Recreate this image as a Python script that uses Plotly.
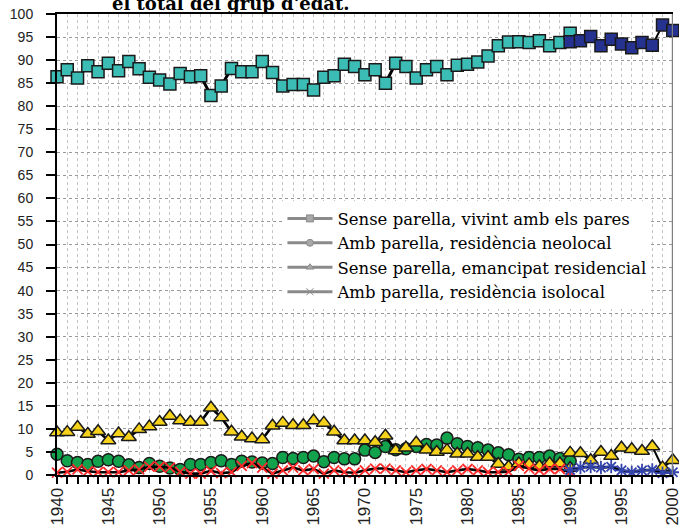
import plotly.graph_objects as go

years_a = list(range(1940, 1991))
years_b = list(range(1990, 2001))

pares_a = [86.4, 87.9, 86.1, 88.8, 87.5, 89.3, 87.7, 89.7, 88.1, 86.3,
           85.7, 84.8, 87.1, 86.4, 86.6, 82.3, 84.4, 88.2, 87.5, 87.5,
           89.7, 87.3, 84.4, 84.7, 84.7, 83.5, 86.3, 86.6, 89.1, 88.6,
           86.8, 87.9, 85.0, 89.3, 88.6, 86.1, 87.9, 88.6, 86.8, 88.9,
           89.1, 89.6, 90.9, 93.1, 93.9, 94.0, 93.8, 94.2, 93.1, 93.8,
           95.8]
pares_b = [94.0, 94.2, 95.1, 93.1, 94.5, 93.5, 92.7, 93.8, 93.2, 97.6, 96.4]

neolocal_a = [4.5, 3.1, 2.7, 2.3, 3.0, 3.3, 3.0, 2.2, 1.6, 2.5,
              1.9, 1.5, 1.2, 2.3, 2.3, 2.7, 3.1, 2.3, 3.0, 2.8,
              2.6, 2.5, 3.8, 3.6, 3.8, 4.1, 2.9, 3.8, 3.5, 3.5,
              5.4, 4.9, 6.2, 5.5, 5.7, 6.2, 6.6, 6.5, 8.0, 6.8,
              6.2, 5.9, 5.4, 4.8, 4.4, 3.4, 3.8, 3.8, 4.1, 3.6,
              3.0]

emancip_a = [9.2, 9.3, 10.4, 8.9, 9.5, 7.5, 9.0, 8.2, 9.9, 10.5,
             11.5, 12.8, 11.8, 11.5, 11.5, 14.6, 12.5, 9.4, 8.3, 7.9,
             7.7, 10.7, 11.3, 10.8, 10.8, 11.8, 11.3, 9.4, 7.5, 7.5,
             7.5, 7.1, 8.5, 5.3, 5.9, 7.0, 5.5, 5.0, 5.4, 4.6,
             4.6, 3.9, 3.9, 2.4, 1.8, 2.5, 2.3, 1.9, 2.5, 2.5,
             1.5]
emancip_b = [4.8, 4.7, 3.2, 5.0, 4.1, 5.9, 5.6, 5.2, 6.2, 1.6, 3.2]

isolocal_a = [0.5, 0.7, 1.2, 0.8, 0.6, 0.6, 0.6, 1.0, 1.2, 1.8,
              1.8, 1.6, 0.7, 0.3, 0.3, 0.9, 0.4, 0.6, 2.0, 2.6,
              1.6, 0.3, 1.0, 1.6, 1.0, 1.3, 0.3, 1.0, 0.6, 0.5,
              1.0, 1.4, 1.4, 1.0, 0.6, 1.0, 1.3, 1.0, 0.6, 1.0,
              1.3, 1.0, 0.6, 0.6, 0.7, 2.0, 1.4, 1.0, 1.3, 1.3,
              0.6]
isolocal_b = [1.1, 1.6, 1.8, 1.6, 1.8, 1.0, 0.6, 1.0, 1.1, 0.4, 0.6]

legend_names = ["Sense parella, vivint amb els pares",
                "Amb parella, residència neolocal",
                "Sense parella, emancipat residencial",
                "Amb parella, residència isolocal"]

title_tail = "el total del grup d'edat."

x_ticks = list(range(1940, 2001, 5))
y_ticks = list(range(0, 101, 5))

fig = go.Figure()

def add(xs, ys, symbol, color, size, lw=2.6, outline="#1a1a1a", olw=1.5):
    fig.add_trace(go.Scatter(
        x=xs, y=ys, mode="lines+markers", showlegend=False, cliponaxis=False,
        hoverinfo="skip",
        line=dict(color="black", width=lw),
        marker=dict(symbol=symbol, size=size, color=color,
                    line=dict(color=outline, width=olw))))

add(years_a, pares_a, "square", "#3BBDB6", 12, lw=3)
add(years_b, pares_b, "square", "#26328F", 12, lw=2)
add(years_a, neolocal_a, "circle", "#12A24C", 12)
add(years_a, emancip_a, "triangle-up", "#F6D21A", 13)
add(years_b, emancip_b, "triangle-up", "#F6D21A", 13, lw=2)
add(years_a, isolocal_a, "x-thin", "#FF2A2A", 10, outline="#FF2A2A", olw=1.8)
add(years_b, isolocal_b, "asterisk", "#3344AA", 11, outline="#3344AA", olw=1.8)

legend_symbols = ["square", "circle", "triangle-up", "x-thin"]
for name, sym in zip(legend_names, legend_symbols):
    fig.add_trace(go.Scatter(
        x=[None], y=[None], mode="lines+markers", name=name,
        line=dict(color="#8A8A8A", width=3),
        marker=dict(symbol=sym, size=7, color="#A8A8A8",
                    line=dict(color="#8A8A8A", width=1))))

fig.add_shape(type="line", xref="x", yref="paper", x0=2000, x1=2000, y0=0, y1=1,
              line=dict(color="#7F7F7F", width=2))

fig.add_annotation(text="<b>" + title_tail + "</b>", xref="paper", yref="paper",
                   x=0.282, y=1.0, yshift=-2, xanchor="center", yanchor="bottom",
                   showarrow=False,
                   font=dict(family="DejaVu Serif", size=18, color="black"))

fig.update_layout(
    width=679, height=525,
    margin=dict(l=57, r=6, t=14, b=50),
    plot_bgcolor="white", paper_bgcolor="white",
    font=dict(family="Liberation Sans", color="#222222"),
    legend=dict(x=0.366, y=0.594, xanchor="left", yanchor="top",
                bgcolor="white", borderwidth=0,
                font=dict(family="DejaVu Serif", size=16.5, color="black"),
                tracegroupgap=0, itemwidth=45),
    showlegend=True,
    hovermode=False,
)

fig.update_xaxes(
    range=[1940, 2000.02], tickmode="array", tickvals=x_ticks,
    ticktext=[str(v) for v in x_ticks], tickangle=-90,
    tickfont=dict(size=17, color="#222222"),
    ticks="outside", ticklen=7, tickwidth=1.5, tickcolor="black",
    ticklabelstandoff=-3, ticklabeloverflow="allow",
    showline=True, linecolor="black", linewidth=2, mirror=True,
    showgrid=True, gridcolor="#C4C4C4", griddash="dot", gridwidth=1,
    minor=dict(dtick=1, tick0=1940, ticks="outside", ticklen=7, tickwidth=1.5,
               tickcolor="black", showgrid=True, gridcolor="#C4C4C4",
               griddash="dot", gridwidth=1),
    zeroline=False, automargin=False,
)
fig.update_yaxes(
    range=[0, 100], tickmode="array", tickvals=y_ticks,
    ticktext=[str(v) for v in y_ticks],
    tickfont=dict(size=14, color="#222222"),
    ticks="outside", ticklen=9, tickwidth=1.5, tickcolor="black",
    ticklabelstandoff=10,
    showline=True, linecolor="black", linewidth=2,
    showgrid=True, gridcolor="#9A9A9A", griddash="dot", gridwidth=1,
    zeroline=False, automargin=False,
)

fig.write_html("out.html", config={"displayModeBar": False},
               post_script="document.body.style.margin='0px';")
